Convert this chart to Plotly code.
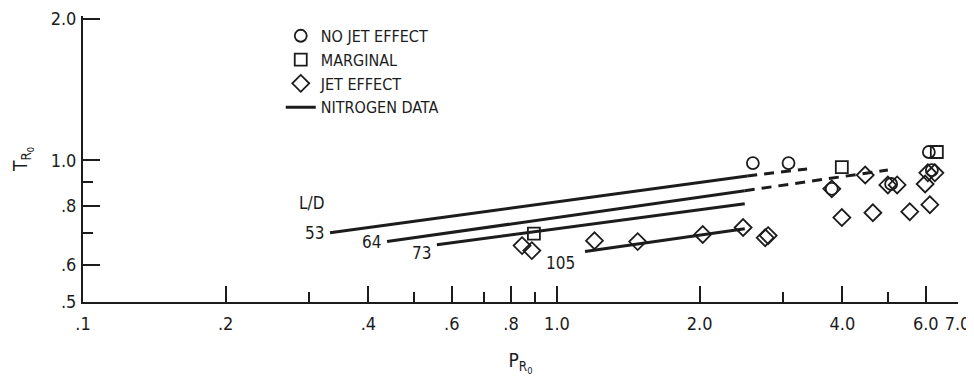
import math
import plotly.graph_objects as go

# ---------------- data ----------------
# Nitrogen data lines, labelled by L/D
ld_labels = ["53", "64", "73", "105"]
n2_x_solid = [[0.332, 2.52], [0.438, 2.49], [0.558, 2.49], [1.146, 2.49]]
n2_y_solid = [[0.702, 0.927], [0.672, 0.862], [0.662, 0.809], [0.640, 0.716]]
# dashed extrapolations (L/D 53 and 64)
n2_x_dash = [[2.52, 3.37], [2.49, 4.99]]
n2_y_dash = [[0.927, 0.959], [0.862, 0.954]]

# No jet effect (circles)
nojet_x = [2.59, 3.08, 3.80, 5.07, 6.09, 6.18]
nojet_y = [0.987, 0.987, 0.870, 0.891, 1.042, 0.954]
# Marginal (squares)
marg_x = [0.894, 3.99, 6.33]
marg_y = [0.699, 0.968, 1.042]
# Jet effect (diamonds)
jet_x = [0.844, 0.885, 1.20, 1.48, 2.03, 2.47, 2.75, 2.79, 3.80, 3.99,
         4.47, 4.64, 4.99, 5.22, 5.55, 5.98, 6.06, 6.27, 6.12]
jet_y = [0.659, 0.643, 0.675, 0.672, 0.696, 0.720, 0.685, 0.692, 0.870, 0.756,
         0.931, 0.774, 0.887, 0.887, 0.778, 0.891, 0.941, 0.941, 0.805]

# axis ticks
x_tick_vals = [0.1, 0.2, 0.4, 0.6, 0.8, 1.0, 2.0, 4.0, 6.0, 7.0]
x_tick_text = [".1", ".2", ".4", ".6", ".8", "1.0", "2.0", "4.0", "6.0", "7.0"]
x_minor_vals = [0.3, 0.5, 0.7, 0.9, 3.0, 5.0]
y_tick_vals = [0.5, 0.6, 0.8, 1.0, 2.0]
y_tick_text = [".5", ".6", ".8", "1.0", "2.0"]
y_minor_vals = [0.7, 0.9]

# ---------------- styling ----------------
INK = "#1c1c1c"
FONT = "Liberation Sans Narrow, DejaVu Sans Condensed, Liberation Sans, Arial"

fig = go.Figure()

for i, (xs, ys) in enumerate(zip(n2_x_solid, n2_y_solid)):
    fig.add_trace(go.Scatter(
        x=xs, y=ys, mode="lines", line=dict(color=INK, width=3),
        name="NITROGEN DATA", legendgroup="n2", showlegend=(i == 0),
        legendrank=4, hoverinfo="skip"))
for xs, ys in zip(n2_x_dash, n2_y_dash):
    fig.add_trace(go.Scatter(
        x=xs, y=ys, mode="lines", line=dict(color=INK, width=3, dash="10px,7px"),
        legendgroup="n2", showlegend=False, hoverinfo="skip"))

mk_line = dict(color=INK, width=1.8)
fig.add_trace(go.Scatter(
    x=jet_x, y=jet_y, mode="markers", name="JET EFFECT", legendgroup="jet",
    legendrank=3, cliponaxis=False,
    marker=dict(symbol="diamond-open", size=13, color=INK, line=mk_line)))
fig.add_trace(go.Scatter(
    x=nojet_x, y=nojet_y, mode="markers", name="NO JET EFFECT", legendgroup="nojet",
    legendrank=1, cliponaxis=False,
    marker=dict(symbol="circle-open", size=12, color=INK, line=mk_line)))
fig.add_trace(go.Scatter(
    x=marg_x, y=marg_y, mode="markers", name="MARGINAL", legendgroup="marg",
    legendrank=2, cliponaxis=False,
    marker=dict(symbol="square-open", size=12, color=INK, line=mk_line)))

# L/D labels next to the start of each line
shifts = [(-4, 0), (-4, 0), (-4, -8), (-8, -11)]
for lab, xs, ys, (dx, dy) in zip(ld_labels, n2_x_solid, n2_y_solid, shifts):
    fig.add_annotation(x=math.log10(xs[0]), y=math.log10(ys[0]), text=lab,
                       showarrow=False, xanchor="right", yanchor="middle",
                       xshift=dx, yshift=dy, font=dict(size=17, color=INK, family=FONT))
fig.add_annotation(x=math.log10(n2_x_solid[0][0]), y=math.log10(n2_y_solid[0][0]),
                   text="L/D", showarrow=False, xanchor="right", yanchor="middle",
                   xshift=-4, yshift=30, font=dict(size=17, color=INK, family=FONT))

axis_common = dict(
    type="log", showgrid=False, zeroline=False, showline=True, automargin=False,
    linecolor=INK, linewidth=2, ticks="inside", tickwidth=1.6, tickcolor=INK,
    ticklabeloverflow="allow",
    tickfont=dict(size=18, color=INK, family=FONT),
)
fig.update_xaxes(
    **axis_common, range=[math.log10(0.1), math.log10(7.0) + 0.001],
    tickmode="array", tickvals=x_tick_vals, ticktext=x_tick_text, ticklen=16,
    ticklabelstandoff=4,
    minor=dict(tickmode="array", tickvals=x_minor_vals, ticks="inside", ticklen=10,
               tickwidth=1.6, tickcolor=INK, showgrid=False),
    title=dict(text="P<sub>R<sub>0</sub></sub>", standoff=21,
               font=dict(size=19, color=INK, family=FONT)),
)
fig.update_yaxes(
    **axis_common, range=[math.log10(0.5), math.log10(2.0) + 0.006],
    tickmode="array", tickvals=y_tick_vals, ticktext=y_tick_text, ticklen=17,
    ticklabelstandoff=1,
    minor=dict(tickmode="array", tickvals=y_minor_vals, ticks="inside", ticklen=10,
               tickwidth=1.6, tickcolor=INK, showgrid=False),
    title=dict(text="T<sub>R<sub>0</sub></sub>", standoff=18,
               font=dict(size=19, color=INK, family=FONT)),
)

# The page body adds an 8px offset; size the figure so the plot area lands
# where the reference has it.
fig.update_layout(
    width=966, height=371,
    margin=dict(l=75, r=16, t=8, b=77, autoexpand=False),
    paper_bgcolor="white", plot_bgcolor="white",
    font=dict(family=FONT, color=INK, size=16),
    showlegend=True,
    legend=dict(x=0.226, y=0.99, xanchor="left", yanchor="top",
                bgcolor="rgba(0,0,0,0)", tracegroupgap=0,
                font=dict(size=16, color=INK, family=FONT)),
)

fig.write_html("out.html")
